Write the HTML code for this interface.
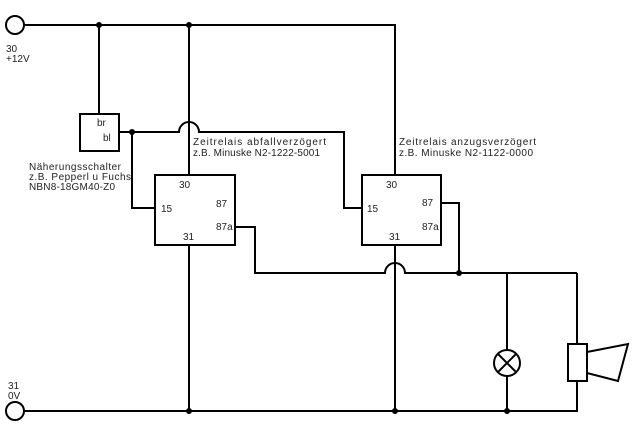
<!DOCTYPE html>
<html><head><meta charset="utf-8"><style>
html,body{margin:0;padding:0;background:#fff;}
svg{display:block}
text{font-family:"Liberation Sans",sans-serif;font-size:10px;fill:#222;}
</style></head><body>
<svg width="640" height="430" viewBox="0 0 640 430" xmlns="http://www.w3.org/2000/svg">
<g stroke="#000" stroke-width="2" fill="none">
<!-- terminals -->
<circle cx="15" cy="25" r="9" fill="#fff"/>
<circle cx="15" cy="411" r="9" fill="#fff"/>
<!-- top rail -->
<path d="M24 25 H395 V175"/>
<path d="M99 25 V114"/>
<path d="M189 25 V175"/>
<!-- bottom rail -->
<path d="M24 411 H577 V381"/>
<path d="M577 344 V273"/>
<!-- sensor -->
<rect x="80" y="114" width="39" height="37"/>
<path d="M119 132 H179 A10 10 0 0 1 199 132 H344 V208 H362"/>
<path d="M132 132 V208 H155"/>
<!-- relays -->
<rect x="155" y="175" width="80" height="70"/>
<rect x="362" y="175" width="79" height="70"/>
<path d="M189 245 V411"/>
<path d="M395 245 V411"/>
<path d="M235 227 H255 V273 H385 A10 10 0 0 1 405 273 H577"/>
<path d="M441 203 H459 V273"/>
<!-- lamp -->
<path d="M507 273 V350 M507 376 V411"/>
<circle cx="507" cy="363" r="13"/>
<path d="M498 354 L516 372 M516 354 L498 372"/>
<!-- horn -->
<rect x="568" y="344" width="19" height="37"/>
<path d="M587 352 L628 344 L618 381 L587 373"/>
</g>
<g fill="#000">
<circle cx="99" cy="25" r="3"/>
<circle cx="189" cy="25" r="3"/>
<circle cx="132" cy="132" r="3"/>
<circle cx="459" cy="273" r="3"/>
<circle cx="189" cy="411" r="3"/>
<circle cx="395" cy="411" r="3"/>
<circle cx="507" cy="411" r="3"/>
</g>
<text x="6" y="52">30</text>
<text x="6" y="62">+12V</text>
<text x="8" y="389">31</text>
<text x="8" y="399">0V</text>
<text x="97" y="126">br</text>
<text x="103" y="141">bl</text>
<text x="29" y="170" textLength="92">Näherungsschalter</text>
<text x="29" y="180" textLength="102">z.B. Pepperl u Fuchs</text>
<text x="29" y="190" textLength="86">NBN8-18GM40-Z0</text>
<text x="193" y="145" textLength="133">Zeitrelais abfallverzögert</text>
<text x="193" y="156" textLength="127">z.B. Minuske N2-1222-5001</text>
<text x="399" y="145" textLength="137">Zeitrelais anzugsverzögert</text>
<text x="399" y="156" textLength="134">z.B. Minuske N2-1122-0000</text>
<text x="179" y="188">30</text>
<text x="161" y="212">15</text>
<text x="216" y="207">87</text>
<text x="216" y="230">87a</text>
<text x="183" y="240">31</text>
<text x="386" y="188">30</text>
<text x="367" y="212">15</text>
<text x="422" y="206">87</text>
<text x="422" y="230">87a</text>
<text x="389" y="240">31</text>
</svg>
</body></html>
